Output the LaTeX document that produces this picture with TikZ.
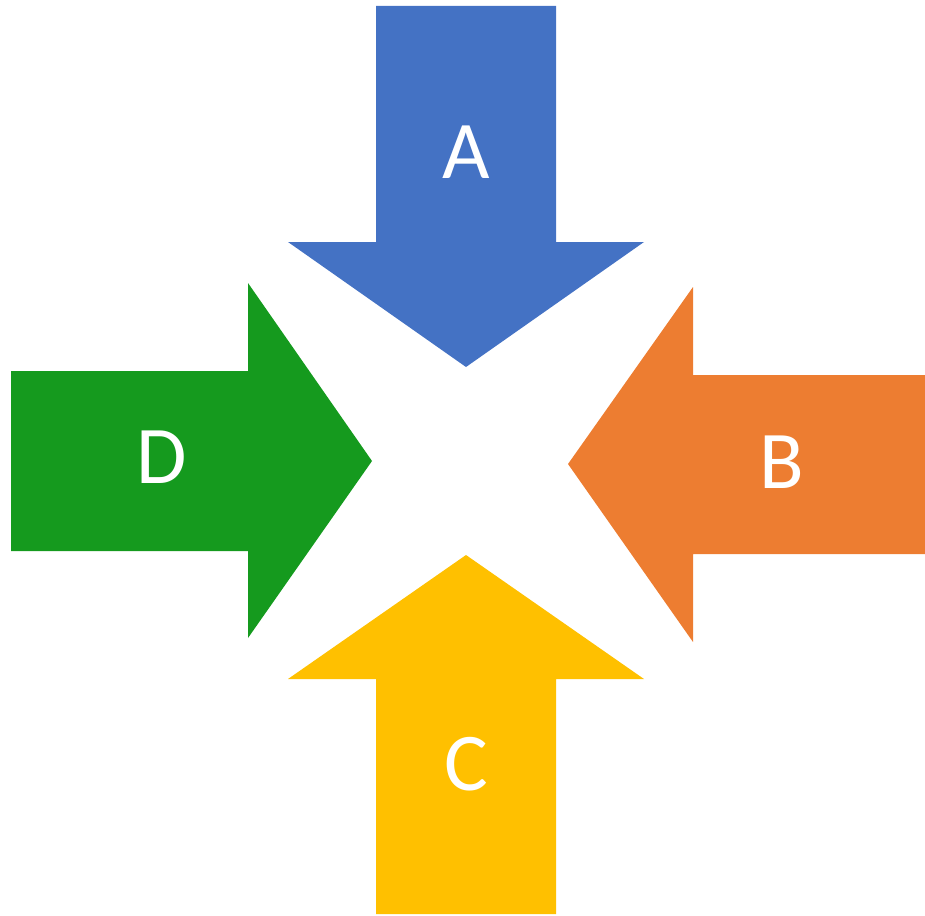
\documentclass[tikz,border=0pt]{standalone}
\usepackage{fontspec}
\setmainfont{Carlito}
\usepackage{tikz}
\usetikzlibrary{positioning}
\usepackage{xcolor}
\definecolor{arrowBlue}{HTML}{4472C4}
\definecolor{arrowOrange}{HTML}{ED7D31}
\definecolor{arrowYellow}{HTML}{FFC000}
\definecolor{arrowGreen}{HTML}{159A1E}

\begin{document}
\begin{tikzpicture}[x=1pt, y=-1pt,
    label text/.style={text=white, anchor=base, inner sep=0pt,
                       font=\fontsize{82}{82}\selectfont}]
  \useasboundingbox (0,0) rectangle (925,915);

  % A: down
  \fill[arrowBlue] (376,6) -- (556,6) -- (556,242) -- (644,242) -- (466,367)
                   -- (288,242) -- (376,242) -- cycle;
  % B: left
  \fill[arrowOrange] (925,375) -- (925,554) -- (693,554) -- (693,642) -- (568,464)
                     -- (693,287) -- (693,375) -- cycle;
  % C: up
  \fill[arrowYellow] (376,914) -- (556,914) -- (556,679) -- (644,679) -- (466,555)
                     -- (288,679) -- (376,679) -- cycle;
  % D: right
  \fill[arrowGreen] (11,371) -- (248,371) -- (248,283) -- (372,461) -- (248,638)
                    -- (248,551) -- (11,551) -- cycle;

  \node[label text] (labelA) at (466,178) {A};
  \node[label text] (labelB) at (782,488) {B};
  \node[label text] (labelC) at (466,790) {C};
  \node[label text] (labelD) at (162,483) {D};
\end{tikzpicture}
\end{document}
